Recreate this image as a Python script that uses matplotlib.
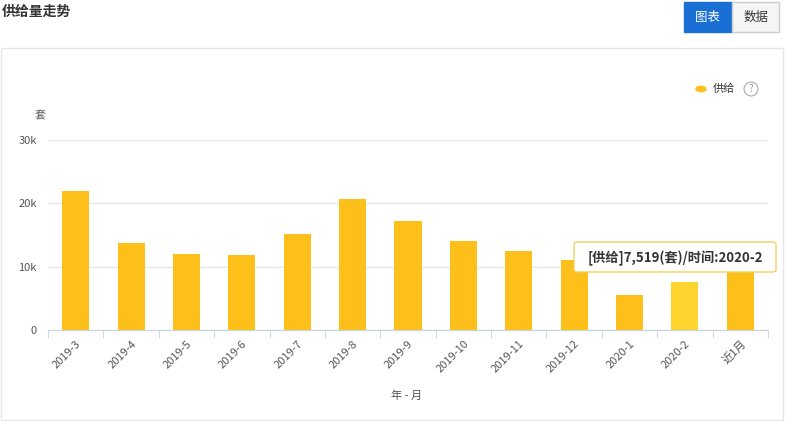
import matplotlib
matplotlib.use("Agg")
import matplotlib.pyplot as plt
from matplotlib.patches import Rectangle, FancyBboxPatch

plt.rcParams['font.family'] = ['Noto Sans CJK SC', 'DejaVu Sans']

categories = ["2019-3","2019-4","2019-5","2019-6","2019-7","2019-8","2019-9",
              "2019-10","2019-11","2019-12","2020-1","2020-2","近1月"]
supply = [21950, 13750, 12000, 11850, 15200, 20700, 17200, 14100, 12500, 11100, 5550, 7519, 9500]
yticks = [0, 10000, 20000, 30000]
yticklabels = ["0", "10k", "20k", "30k"]

W, H = 785, 421
fig = plt.figure(figsize=(W/100, H/100), dpi=100)

def fx(x): return x / W
def fy(y): return 1 - y / H

# outer panel
fig.patches.append(Rectangle((fx(1), fy(420)), fx(782), 372/H, transform=fig.transFigure,
                             fill=False, edgecolor="#e6e6e6", lw=1))
fig.text(fx(2), fy(12), "供给量走势", fontsize=10, fontweight="bold", color="#333333", va="center")
# buttons
fig.patches.append(Rectangle((fx(684), fy(32)), 48/W, 30/H, transform=fig.transFigure,
                             facecolor="#1a6fd4", edgecolor="#1a6fd4"))
fig.patches.append(Rectangle((fx(732), fy(32)), 47/W, 30/H, transform=fig.transFigure,
                             facecolor="#f5f5f5", edgecolor="#cccccc"))
fig.text(fx(708), fy(17), "图表", color="white", fontsize=9, ha="center", va="center")
fig.text(fx(756), fy(17), "数据", color="#333333", fontsize=9, ha="center", va="center")

ax = fig.add_axes([fx(48), fy(330), (768-48)/W, 190/H])
x = list(range(len(categories)))
colors = ["#fdc01a"] * len(categories)
colors[11] = "#fed42e"
ax.bar(x, supply, width=0.49, color=colors)
ax.set_xlim(-0.5, len(categories) - 0.5)
ax.set_ylim(0, 30000)
ax.set_yticks(yticks)
ax.set_yticklabels(yticklabels, fontsize=8, color="#555555")
ax.yaxis.grid(True, color="#e6e6e6", lw=1)
ax.set_axisbelow(True)
for s in ["top", "right", "left"]:
    ax.spines[s].set_visible(False)
ax.spines["bottom"].set_color("#c8d3e0")
ax.tick_params(axis="y", length=0, pad=8)
ax.set_xticks([i - 0.5 for i in x] + [len(categories) - 0.5], minor=True)
ax.tick_params(axis="x", which="minor", length=6, color="#c8d3e0")
ax.set_xticks(x)
ax.set_xticklabels(categories, rotation=45, ha="right", rotation_mode="anchor",
                   fontsize=8, color="#555555")
ax.tick_params(axis="x", which="major", length=0, pad=6)
ax.set_clip_on(False)

fig.text(fx(40), fy(116), "套", fontsize=8, color="#555555", ha="center", va="center")
fig.text(fx(407), fy(396), "年 - 月", fontsize=8, color="#555555", ha="center", va="center")

# legend
fig.patches.append(plt.Circle((fx(701), fy(89)), 5/W, transform=fig.transFigure, color="#fdc01a"))
fig.text(fx(713), fy(89), "供给", fontsize=8, color="#333333", va="center")
fig.text(fx(751), fy(89), "?", fontsize=7, color="#999999", ha="center", va="center",
         bbox=dict(boxstyle="circle,pad=0.2", fc="white", ec="#aaaaaa", lw=0.8))

# tooltip
fig.patches.append(FancyBboxPatch((fx(574), fy(272)), 202/W, 30/H, transform=fig.transFigure,
                                  boxstyle="round,pad=0,rounding_size=0.005",
                                  facecolor="white", edgecolor="#f0d060", lw=1))
fig.text(fx(675), fy(258), "[供给]7,519(套)/时间:2020-2", fontsize=9.5, fontweight="bold",
         color="#333333", ha="center", va="center")

fig.savefig("out.png", dpi=100)
